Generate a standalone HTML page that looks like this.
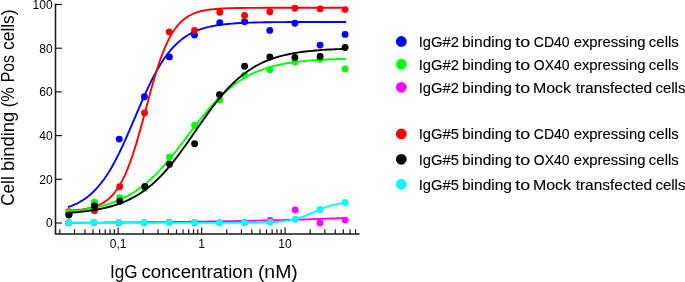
<!DOCTYPE html>
<html><head><meta charset="utf-8"><title>chart</title>
<style>
html,body{margin:0;padding:0;background:#fff;}
body{width:685px;height:282px;overflow:hidden;position:relative;}
svg{display:block;position:absolute;left:0;top:0;will-change:transform;}
text{font-family:"Liberation Sans",sans-serif;fill:#000;}
.tk{font-size:12px;fill:#000;stroke:none;}
.st{stroke:#000;stroke-width:0.12px;}
.sn{stroke:none;}
</style></head><body>
<svg width="685" height="282" viewBox="0 0 685 282">
<rect width="685" height="282" fill="#fff"/>
<path d="M55.50 3.7V233.95H359.6" fill="none" stroke="#1a1a1a" stroke-width="1.55" stroke-linejoin="miter"/>
<path d="M55.50 223.00H62" stroke="#1a1a1a" stroke-width="1.2"/>
<path d="M55.50 179.30H62" stroke="#1a1a1a" stroke-width="1.2"/>
<path d="M55.50 135.60H62" stroke="#1a1a1a" stroke-width="1.2"/>
<path d="M55.50 91.90H62" stroke="#1a1a1a" stroke-width="1.2"/>
<path d="M55.50 48.20H62" stroke="#1a1a1a" stroke-width="1.2"/>
<path d="M55.50 4.50H62" stroke="#1a1a1a" stroke-width="1.2"/>
<path d="M59.82 233.95V229.35" stroke="#1a1a1a" stroke-width="1.2"/>
<path d="M74.52 233.95V229.35" stroke="#1a1a1a" stroke-width="1.2"/>
<path d="M84.94 233.95V229.35" stroke="#1a1a1a" stroke-width="1.2"/>
<path d="M93.03 233.95V229.35" stroke="#1a1a1a" stroke-width="1.2"/>
<path d="M99.64 233.95V229.35" stroke="#1a1a1a" stroke-width="1.2"/>
<path d="M105.22 233.95V229.35" stroke="#1a1a1a" stroke-width="1.2"/>
<path d="M110.06 233.95V229.35" stroke="#1a1a1a" stroke-width="1.2"/>
<path d="M114.33 233.95V229.35" stroke="#1a1a1a" stroke-width="1.2"/>
<path d="M118.15 233.95V227.55" stroke="#1a1a1a" stroke-width="1.2"/>
<path d="M143.27 233.95V229.35" stroke="#1a1a1a" stroke-width="1.2"/>
<path d="M157.97 233.95V229.35" stroke="#1a1a1a" stroke-width="1.2"/>
<path d="M168.39 233.95V229.35" stroke="#1a1a1a" stroke-width="1.2"/>
<path d="M176.48 233.95V229.35" stroke="#1a1a1a" stroke-width="1.2"/>
<path d="M183.09 233.95V229.35" stroke="#1a1a1a" stroke-width="1.2"/>
<path d="M188.67 233.95V229.35" stroke="#1a1a1a" stroke-width="1.2"/>
<path d="M193.51 233.95V229.35" stroke="#1a1a1a" stroke-width="1.2"/>
<path d="M197.78 233.95V229.35" stroke="#1a1a1a" stroke-width="1.2"/>
<path d="M201.60 233.95V227.55" stroke="#1a1a1a" stroke-width="1.2"/>
<path d="M226.72 233.95V229.35" stroke="#1a1a1a" stroke-width="1.2"/>
<path d="M241.42 233.95V229.35" stroke="#1a1a1a" stroke-width="1.2"/>
<path d="M251.84 233.95V229.35" stroke="#1a1a1a" stroke-width="1.2"/>
<path d="M259.93 233.95V229.35" stroke="#1a1a1a" stroke-width="1.2"/>
<path d="M266.54 233.95V229.35" stroke="#1a1a1a" stroke-width="1.2"/>
<path d="M272.12 233.95V229.35" stroke="#1a1a1a" stroke-width="1.2"/>
<path d="M276.96 233.95V229.35" stroke="#1a1a1a" stroke-width="1.2"/>
<path d="M281.23 233.95V229.35" stroke="#1a1a1a" stroke-width="1.2"/>
<path d="M285.05 233.95V227.55" stroke="#1a1a1a" stroke-width="1.2"/>
<path d="M310.17 233.95V229.35" stroke="#1a1a1a" stroke-width="1.2"/>
<path d="M324.87 233.95V229.35" stroke="#1a1a1a" stroke-width="1.2"/>
<path d="M335.29 233.95V229.35" stroke="#1a1a1a" stroke-width="1.2"/>
<path d="M343.38 233.95V229.35" stroke="#1a1a1a" stroke-width="1.2"/>
<path d="M349.99 233.95V229.35" stroke="#1a1a1a" stroke-width="1.2"/>
<path d="M355.57 233.95V229.35" stroke="#1a1a1a" stroke-width="1.2"/>
<path d="M68.80 206.85L70.79 206.13L72.78 205.35L74.77 204.49L76.75 203.56L78.74 202.54L80.73 201.43L82.72 200.23L84.71 198.91L86.70 197.49L88.68 195.95L90.67 194.28L92.66 192.47L94.65 190.53L96.64 188.43L98.63 186.18L100.62 183.77L102.60 181.19L104.59 178.44L106.58 175.52L108.57 172.43L110.56 169.15L112.55 165.71L114.54 162.09L116.52 158.31L118.51 154.37L120.50 150.28L122.49 146.06L124.48 141.71L126.47 137.26L128.45 132.72L130.44 128.11L132.43 123.46L134.42 118.78L136.41 114.10L138.40 109.43L140.39 104.81L142.37 100.25L144.36 95.77L146.35 91.39L148.34 87.12L150.33 82.99L152.32 79.00L154.31 75.17L156.29 71.50L158.28 68.00L160.27 64.67L162.26 61.52L164.25 58.55L166.24 55.74L168.22 53.11L170.21 50.65L172.20 48.35L174.19 46.21L176.18 44.22L178.17 42.37L180.16 40.66L182.14 39.07L184.13 37.61L186.12 36.27L188.11 35.03L190.10 33.89L192.09 32.84L194.07 31.88L196.06 31.01L198.05 30.20L200.04 29.47L202.03 28.79L204.02 28.18L206.01 27.62L207.99 27.11L209.98 26.64L211.97 26.22L213.96 25.83L215.95 25.47L217.94 25.15L219.93 24.86L221.91 24.60L223.90 24.35L225.89 24.13L227.88 23.93L229.87 23.75L231.86 23.59L233.84 23.44L235.83 23.30L237.82 23.18L239.81 23.07L241.80 22.96L243.79 22.87L245.78 22.79L247.76 22.71L249.75 22.64L251.74 22.58L253.73 22.52L255.72 22.47L257.71 22.42L259.69 22.38L261.68 22.34L263.67 22.30L265.66 22.27L267.65 22.24L269.64 22.22L271.63 22.19L273.61 22.17L275.60 22.15L277.59 22.13L279.58 22.12L281.57 22.10L283.56 22.09L285.55 22.08L287.53 22.07L289.52 22.06L291.51 22.05L293.50 22.04L295.49 22.03L297.48 22.03L299.46 22.02L301.45 22.02L303.44 22.01L305.43 22.01L307.42 22.00L309.41 22.00L311.40 21.99L313.38 21.99L315.37 21.99L317.36 21.99L319.35 21.98L321.34 21.98L323.33 21.98L325.32 21.98L327.30 21.98L329.29 21.97L331.28 21.97L333.27 21.97L335.26 21.97L337.25 21.97L339.23 21.97L341.22 21.97L343.21 21.97L345.20 21.97" fill="none" stroke="#0000ff" stroke-width="1.90" stroke-linejoin="round" stroke-linecap="square"/>
<circle cx="69.1" cy="214.3" r="3.45" fill="#0000ff"/>
<circle cx="94.3" cy="203.4" r="3.45" fill="#0000ff"/>
<circle cx="119.2" cy="139.1" r="3.45" fill="#0000ff"/>
<circle cx="144.4" cy="96.8" r="3.45" fill="#0000ff"/>
<circle cx="169.4" cy="56.9" r="3.45" fill="#0000ff"/>
<circle cx="194.5" cy="35.1" r="3.45" fill="#0000ff"/>
<circle cx="219.8" cy="22.7" r="3.45" fill="#0000ff"/>
<circle cx="244.6" cy="21.8" r="3.45" fill="#0000ff"/>
<circle cx="269.8" cy="30.4" r="3.45" fill="#0000ff"/>
<circle cx="294.9" cy="23.2" r="3.45" fill="#0000ff"/>
<circle cx="320.1" cy="45.1" r="3.45" fill="#0000ff"/>
<circle cx="345.1" cy="34.4" r="3.45" fill="#0000ff"/>
<path d="M68.80 210.57L70.79 210.46L72.78 210.33L74.77 210.18L76.75 210.01L78.74 209.82L80.73 209.59L82.72 209.33L84.71 209.02L86.70 208.67L88.68 208.27L90.67 207.80L92.66 207.27L94.65 206.65L96.64 205.94L98.63 205.12L100.62 204.19L102.60 203.11L104.59 201.89L106.58 200.48L108.57 198.88L110.56 197.07L112.55 195.01L114.54 192.67L116.52 190.05L118.51 187.10L120.50 183.80L122.49 180.13L124.48 176.07L126.47 171.60L128.45 166.71L130.44 161.40L132.43 155.69L134.42 149.58L136.41 143.10L138.40 136.31L140.39 129.26L142.37 121.99L144.36 114.60L146.35 107.16L148.34 99.74L150.33 92.42L152.32 85.28L154.31 78.38L156.29 71.79L158.28 65.55L160.27 59.68L162.26 54.23L164.25 49.19L166.24 44.57L168.22 40.36L170.21 36.55L172.20 33.11L174.19 30.04L176.18 27.30L178.17 24.86L180.16 22.71L182.14 20.80L184.13 19.13L186.12 17.66L188.11 16.37L190.10 15.24L192.09 14.26L194.07 13.40L196.06 12.65L198.05 12.00L200.04 11.44L202.03 10.95L204.02 10.52L206.01 10.15L207.99 9.83L209.98 9.56L211.97 9.32L213.96 9.11L215.95 8.93L217.94 8.77L219.93 8.64L221.91 8.52L223.90 8.42L225.89 8.34L227.88 8.26L229.87 8.20L231.86 8.14L233.84 8.09L235.83 8.05L237.82 8.01L239.81 7.98L241.80 7.95L243.79 7.93L245.78 7.91L247.76 7.89L249.75 7.88L251.74 7.86L253.73 7.85L255.72 7.84L257.71 7.84L259.69 7.83L261.68 7.82L263.67 7.82L265.66 7.81L267.65 7.81L269.64 7.80L271.63 7.80L273.61 7.80L275.60 7.80L277.59 7.79L279.58 7.79L281.57 7.79L283.56 7.79L285.55 7.79L287.53 7.79L289.52 7.79L291.51 7.79L293.50 7.79L295.49 7.79L297.48 7.78L299.46 7.78L301.45 7.78L303.44 7.78L305.43 7.78L307.42 7.78L309.41 7.78L311.40 7.78L313.38 7.78L315.37 7.78L317.36 7.78L319.35 7.78L321.34 7.78L323.33 7.78L325.32 7.78L327.30 7.78L329.29 7.78L331.28 7.78L333.27 7.78L335.26 7.78L337.25 7.78L339.23 7.78L341.22 7.78L343.21 7.78L345.20 7.78" fill="none" stroke="#ff0000" stroke-width="1.90" stroke-linejoin="round" stroke-linecap="square"/>
<circle cx="68.8" cy="211.6" r="3.45" fill="#ff0000"/>
<circle cx="94.5" cy="210.7" r="3.45" fill="#ff0000"/>
<circle cx="119.7" cy="186.8" r="3.45" fill="#ff0000"/>
<circle cx="144.5" cy="113.0" r="3.45" fill="#ff0000"/>
<circle cx="169.2" cy="32.0" r="3.45" fill="#ff0000"/>
<circle cx="194.5" cy="30.4" r="3.45" fill="#ff0000"/>
<circle cx="219.8" cy="12.2" r="3.45" fill="#ff0000"/>
<circle cx="244.6" cy="15.4" r="3.45" fill="#ff0000"/>
<circle cx="269.8" cy="11.7" r="3.45" fill="#ff0000"/>
<circle cx="294.9" cy="8.2" r="3.45" fill="#ff0000"/>
<circle cx="320.1" cy="8.9" r="3.45" fill="#ff0000"/>
<circle cx="345.1" cy="9.6" r="3.45" fill="#ff0000"/>
<path d="M68.80 211.40L70.79 211.21L72.78 211.01L74.77 210.79L76.75 210.56L78.74 210.32L80.73 210.06L82.72 209.78L84.71 209.49L86.70 209.17L88.68 208.84L90.67 208.48L92.66 208.10L94.65 207.70L96.64 207.27L98.63 206.81L100.62 206.33L102.60 205.81L104.59 205.26L106.58 204.68L108.57 204.06L110.56 203.41L112.55 202.71L114.54 201.98L116.52 201.20L118.51 200.38L120.50 199.51L122.49 198.59L124.48 197.62L126.47 196.59L128.45 195.52L130.44 194.38L132.43 193.19L134.42 191.93L136.41 190.62L138.40 189.24L140.39 187.80L142.37 186.29L144.36 184.71L146.35 183.07L148.34 181.35L150.33 179.57L152.32 177.73L154.31 175.81L156.29 173.83L158.28 171.78L160.27 169.67L162.26 167.49L164.25 165.26L166.24 162.97L168.22 160.62L170.21 158.23L172.20 155.79L174.19 153.31L176.18 150.79L178.17 148.23L180.16 145.65L182.14 143.05L184.13 140.44L186.12 137.81L188.11 135.18L190.10 132.56L192.09 129.94L194.07 127.33L196.06 124.75L198.05 122.19L200.04 119.66L202.03 117.17L204.02 114.71L206.01 112.31L207.99 109.95L209.98 107.64L211.97 105.39L213.96 103.20L215.95 101.07L217.94 99.01L219.93 97.01L221.91 95.07L223.90 93.21L225.89 91.41L227.88 89.68L229.87 88.01L231.86 86.42L233.84 84.89L235.83 83.43L237.82 82.03L239.81 80.70L241.80 79.43L243.79 78.22L245.78 77.07L247.76 75.98L249.75 74.94L251.74 73.96L253.73 73.02L255.72 72.14L257.71 71.30L259.69 70.51L261.68 69.77L263.67 69.06L265.66 68.40L267.65 67.77L269.64 67.18L271.63 66.62L273.61 66.09L275.60 65.60L277.59 65.14L279.58 64.70L281.57 64.29L283.56 63.90L285.55 63.54L287.53 63.20L289.52 62.88L291.51 62.58L293.50 62.30L295.49 62.03L297.48 61.78L299.46 61.55L301.45 61.33L303.44 61.13L305.43 60.94L307.42 60.76L309.41 60.59L311.40 60.43L313.38 60.28L315.37 60.15L317.36 60.02L319.35 59.90L321.34 59.78L323.33 59.68L325.32 59.58L327.30 59.48L329.29 59.40L331.28 59.32L333.27 59.24L335.26 59.17L337.25 59.10L339.23 59.04L341.22 58.98L343.21 58.93L345.20 58.87" fill="none" stroke="#00ff00" stroke-width="1.90" stroke-linejoin="round" stroke-linecap="square"/>
<circle cx="68.8" cy="212.5" r="3.45" fill="#00ff00"/>
<circle cx="94.5" cy="202.2" r="3.45" fill="#00ff00"/>
<circle cx="119.7" cy="197.8" r="3.45" fill="#00ff00"/>
<circle cx="144.9" cy="188.2" r="3.45" fill="#00ff00"/>
<circle cx="169.5" cy="157.3" r="3.45" fill="#00ff00"/>
<circle cx="194.6" cy="125.3" r="3.45" fill="#00ff00"/>
<circle cx="219.8" cy="100.0" r="3.45" fill="#00ff00"/>
<circle cx="244.6" cy="75.1" r="3.45" fill="#00ff00"/>
<circle cx="269.8" cy="69.8" r="3.45" fill="#00ff00"/>
<circle cx="294.9" cy="62.1" r="3.45" fill="#00ff00"/>
<circle cx="320.1" cy="59.3" r="3.45" fill="#00ff00"/>
<circle cx="345.1" cy="69.0" r="3.45" fill="#00ff00"/>
<path d="M68.80 212.82L70.79 212.67L72.78 212.52L74.77 212.35L76.75 212.18L78.74 211.99L80.73 211.79L82.72 211.57L84.71 211.34L86.70 211.10L88.68 210.84L90.67 210.56L92.66 210.26L94.65 209.94L96.64 209.60L98.63 209.23L100.62 208.84L102.60 208.43L104.59 207.99L106.58 207.52L108.57 207.02L110.56 206.49L112.55 205.92L114.54 205.32L116.52 204.68L118.51 204.00L120.50 203.27L122.49 202.51L124.48 201.69L126.47 200.83L128.45 199.92L130.44 198.95L132.43 197.93L134.42 196.85L136.41 195.70L138.40 194.50L140.39 193.23L142.37 191.90L144.36 190.50L146.35 189.02L148.34 187.48L150.33 185.86L152.32 184.16L154.31 182.39L156.29 180.55L158.28 178.63L160.27 176.63L162.26 174.55L164.25 172.40L166.24 170.18L168.22 167.88L170.21 165.51L172.20 163.08L174.19 160.57L176.18 158.01L178.17 155.39L180.16 152.72L182.14 150.00L184.13 147.24L186.12 144.45L188.11 141.62L190.10 138.77L192.09 135.90L194.07 133.02L196.06 130.13L198.05 127.25L200.04 124.38L202.03 121.53L204.02 118.70L206.01 115.90L207.99 113.13L209.98 110.41L211.97 107.73L213.96 105.11L215.95 102.54L217.94 100.03L219.93 97.59L221.91 95.21L223.90 92.91L225.89 90.67L227.88 88.51L229.87 86.43L231.86 84.42L233.84 82.49L235.83 80.64L237.82 78.86L239.81 77.16L241.80 75.53L243.79 73.98L245.78 72.50L247.76 71.09L249.75 69.74L251.74 68.47L253.73 67.26L255.72 66.11L257.71 65.02L259.69 63.99L261.68 63.02L263.67 62.10L265.66 61.23L267.65 60.41L269.64 59.64L271.63 58.91L273.61 58.23L275.60 57.58L277.59 56.98L279.58 56.40L281.57 55.87L283.56 55.36L285.55 54.89L287.53 54.45L289.52 54.03L291.51 53.64L293.50 53.28L295.49 52.93L297.48 52.61L299.46 52.31L301.45 52.03L303.44 51.76L305.43 51.52L307.42 51.28L309.41 51.07L311.40 50.86L313.38 50.68L315.37 50.50L317.36 50.33L319.35 50.18L321.34 50.03L323.33 49.90L325.32 49.77L327.30 49.65L329.29 49.54L331.28 49.44L333.27 49.34L335.26 49.25L337.25 49.17L339.23 49.09L341.22 49.01L343.21 48.95L345.20 48.88" fill="none" stroke="#000000" stroke-width="1.90" stroke-linejoin="round" stroke-linecap="square"/>
<circle cx="68.8" cy="215.1" r="3.45" fill="#000000"/>
<circle cx="94.5" cy="205.9" r="3.45" fill="#000000"/>
<circle cx="119.7" cy="201.3" r="3.45" fill="#000000"/>
<circle cx="144.9" cy="186.4" r="3.45" fill="#000000"/>
<circle cx="169.5" cy="164.3" r="3.45" fill="#000000"/>
<circle cx="194.6" cy="143.7" r="3.45" fill="#000000"/>
<circle cx="219.5" cy="94.6" r="3.45" fill="#000000"/>
<circle cx="244.6" cy="66.3" r="3.45" fill="#000000"/>
<circle cx="269.8" cy="57.0" r="3.45" fill="#000000"/>
<circle cx="294.9" cy="57.4" r="3.45" fill="#000000"/>
<circle cx="320.1" cy="56.4" r="3.45" fill="#000000"/>
<circle cx="345.1" cy="47.5" r="3.45" fill="#000000"/>
<path d="M68.80 222.74L70.79 222.73L72.78 222.73L74.77 222.72L76.75 222.71L78.74 222.70L80.73 222.69L82.72 222.68L84.71 222.67L86.70 222.66L88.68 222.65L90.67 222.64L92.66 222.63L94.65 222.62L96.64 222.61L98.63 222.60L100.62 222.59L102.60 222.58L104.59 222.56L106.58 222.55L108.57 222.54L110.56 222.53L112.55 222.51L114.54 222.50L116.52 222.49L118.51 222.48L120.50 222.46L122.49 222.45L124.48 222.44L126.47 222.42L128.45 222.41L130.44 222.39L132.43 222.38L134.42 222.36L136.41 222.35L138.40 222.33L140.39 222.31L142.37 222.30L144.36 222.28L146.35 222.26L148.34 222.25L150.33 222.23L152.32 222.21L154.31 222.19L156.29 222.18L158.28 222.16L160.27 222.14L162.26 222.12L164.25 222.10L166.24 222.08L168.22 222.06L170.21 222.04L172.20 222.02L174.19 221.99L176.18 221.97L178.17 221.95L180.16 221.93L182.14 221.90L184.13 221.88L186.12 221.86L188.11 221.83L190.10 221.81L192.09 221.78L194.07 221.76L196.06 221.73L198.05 221.70L200.04 221.68L202.03 221.65L204.02 221.62L206.01 221.59L207.99 221.56L209.98 221.53L211.97 221.50L213.96 221.47L215.95 221.44L217.94 221.41L219.93 221.38L221.91 221.35L223.90 221.31L225.89 221.28L227.88 221.25L229.87 221.21L231.86 221.18L233.84 221.14L235.83 221.10L237.82 221.07L239.81 221.03L241.80 220.99L243.79 220.95L245.78 220.91L247.76 220.87L249.75 220.83L251.74 220.79L253.73 220.75L255.72 220.71L257.71 220.66L259.69 220.62L261.68 220.57L263.67 220.53L265.66 220.48L267.65 220.44L269.64 220.39L271.63 220.34L273.61 220.29L275.60 220.24L277.59 220.19L279.58 220.14L281.57 220.09L283.56 220.04L285.55 219.98L287.53 219.93L289.52 219.87L291.51 219.82L293.50 219.76L295.49 219.70L297.48 219.65L299.46 219.59L301.45 219.53L303.44 219.47L305.43 219.41L307.42 219.34L309.41 219.28L311.40 219.22L313.38 219.15L315.37 219.09L317.36 219.02L319.35 218.95L321.34 218.88L323.33 218.81L325.32 218.74L327.30 218.67L329.29 218.60L331.28 218.53L333.27 218.45L335.26 218.38L337.25 218.30L339.23 218.23L341.22 218.15L343.21 218.07L345.20 217.99" fill="none" stroke="#ff00ff" stroke-width="1.90" stroke-linejoin="round" stroke-linecap="square"/>
<circle cx="68.6" cy="222.9" r="3.45" fill="#ff00ff"/>
<circle cx="93.8" cy="222.8" r="3.45" fill="#ff00ff"/>
<circle cx="118.8" cy="222.9" r="3.45" fill="#ff00ff"/>
<circle cx="144.2" cy="222.7" r="3.45" fill="#ff00ff"/>
<circle cx="169.3" cy="222.3" r="3.45" fill="#ff00ff"/>
<circle cx="194.5" cy="222.8" r="3.45" fill="#ff00ff"/>
<circle cx="219.5" cy="222.6" r="3.45" fill="#ff00ff"/>
<circle cx="244.6" cy="222.5" r="3.45" fill="#ff00ff"/>
<circle cx="270.1" cy="220.4" r="3.45" fill="#ff00ff"/>
<circle cx="295.2" cy="209.9" r="3.45" fill="#ff00ff"/>
<circle cx="320.0" cy="222.9" r="3.45" fill="#ff00ff"/>
<circle cx="345.1" cy="220.1" r="3.45" fill="#ff00ff"/>
<path d="M68.80 222.86L70.79 222.86L72.78 222.86L74.77 222.86L76.75 222.86L78.74 222.86L80.73 222.86L82.72 222.86L84.71 222.86L86.70 222.86L88.68 222.86L90.67 222.86L92.66 222.86L94.65 222.86L96.64 222.86L98.63 222.86L100.62 222.86L102.60 222.86L104.59 222.86L106.58 222.86L108.57 222.86L110.56 222.86L112.55 222.86L114.54 222.86L116.52 222.86L118.51 222.86L120.50 222.86L122.49 222.86L124.48 222.86L126.47 222.86L128.45 222.86L130.44 222.86L132.43 222.86L134.42 222.86L136.41 222.86L138.40 222.86L140.39 222.86L142.37 222.86L144.36 222.86L146.35 222.86L148.34 222.86L150.33 222.86L152.32 222.86L154.31 222.86L156.29 222.86L158.28 222.86L160.27 222.86L162.26 222.86L164.25 222.86L166.24 222.86L168.22 222.86L170.21 222.86L172.20 222.86L174.19 222.86L176.18 222.86L178.17 222.86L180.16 222.86L182.14 222.86L184.13 222.86L186.12 222.86L188.11 222.86L190.10 222.86L192.09 222.86L194.07 222.86L196.06 222.86L198.05 222.86L200.04 222.86L202.03 222.86L204.02 222.86L206.01 222.86L207.99 222.86L209.98 222.86L211.97 222.86L213.96 222.86L215.95 222.85L217.94 222.85L219.93 222.85L221.91 222.85L223.90 222.85L225.89 222.85L227.88 222.84L229.87 222.84L231.86 222.84L233.84 222.83L235.83 222.83L237.82 222.82L239.81 222.81L241.80 222.80L243.79 222.79L245.78 222.78L247.76 222.77L249.75 222.75L251.74 222.73L253.73 222.71L255.72 222.68L257.71 222.65L259.69 222.61L261.68 222.57L263.67 222.52L265.66 222.46L267.65 222.39L269.64 222.31L271.63 222.21L273.61 222.10L275.60 221.98L277.59 221.83L279.58 221.66L281.57 221.46L283.56 221.23L285.55 220.97L287.53 220.67L289.52 220.33L291.51 219.94L293.50 219.51L295.49 219.02L297.48 218.48L299.46 217.89L301.45 217.24L303.44 216.54L305.43 215.79L307.42 214.99L309.41 214.16L311.40 213.30L313.38 212.43L315.37 211.55L317.36 210.67L319.35 209.81L321.34 208.98L323.33 208.18L325.32 207.43L327.30 206.72L329.29 206.07L331.28 205.47L333.27 204.93L335.26 204.44L337.25 204.00L339.23 203.61L341.22 203.27L343.21 202.97L345.20 202.70" fill="none" stroke="#00ffff" stroke-width="1.90" stroke-linejoin="round" stroke-linecap="square"/>
<circle cx="68.8" cy="222.5" r="3.45" fill="#00ffff"/>
<circle cx="93.9" cy="222.5" r="3.45" fill="#00ffff"/>
<circle cx="119.0" cy="222.5" r="3.45" fill="#00ffff"/>
<circle cx="144.2" cy="222.5" r="3.45" fill="#00ffff"/>
<circle cx="169.3" cy="222.5" r="3.45" fill="#00ffff"/>
<circle cx="194.4" cy="222.5" r="3.45" fill="#00ffff"/>
<circle cx="219.5" cy="222.6" r="3.45" fill="#00ffff"/>
<circle cx="244.4" cy="222.6" r="3.45" fill="#00ffff"/>
<circle cx="270.1" cy="222.2" r="3.45" fill="#00ffff"/>
<circle cx="295.2" cy="219.3" r="3.45" fill="#00ffff"/>
<circle cx="320.0" cy="209.5" r="3.45" fill="#00ffff"/>
<circle cx="345.1" cy="202.5" r="3.45" fill="#00ffff"/>
<circle cx="401.3" cy="41.5" r="5.4" fill="#0000ff"/>
<text class="st" transform="translate(418.73,46.90) scale(0.9931,1)" font-size="14.90">IgG#2</text>
<text class="st" transform="translate(462.00,46.90) scale(1.0405,1)" font-size="14.90">binding</text>
<text class="st" transform="translate(515.23,46.90) scale(1.2008,1)" font-size="14.90">to</text>
<text class="st" transform="translate(533.79,46.90) scale(0.9386,1)" font-size="14.90">CD40</text>
<text class="st" transform="translate(573.67,46.90) scale(0.9963,1)" font-size="14.90">expressing</text>
<text class="st" transform="translate(648.87,46.90) scale(1.0022,1)" font-size="14.90">cells</text>
<circle cx="401.3" cy="64.2" r="5.4" fill="#00ff00"/>
<text class="st" transform="translate(418.73,69.70) scale(0.9931,1)" font-size="14.90">IgG#2</text>
<text class="st" transform="translate(462.00,69.70) scale(1.0405,1)" font-size="14.90">binding</text>
<text class="st" transform="translate(515.23,69.70) scale(1.2008,1)" font-size="14.90">to</text>
<text class="st" transform="translate(533.84,69.70) scale(0.9372,1)" font-size="14.90">OX40</text>
<text class="st" transform="translate(573.67,69.70) scale(0.9963,1)" font-size="14.90">expressing</text>
<text class="st" transform="translate(648.87,69.70) scale(1.0022,1)" font-size="14.90">cells</text>
<circle cx="401.3" cy="87.3" r="5.4" fill="#ff00ff"/>
<text class="st" transform="translate(418.73,92.80) scale(0.9931,1)" font-size="14.90">IgG#2</text>
<text class="st" transform="translate(462.00,92.80) scale(1.0405,1)" font-size="14.90">binding</text>
<text class="st" transform="translate(515.23,92.80) scale(1.2008,1)" font-size="14.90">to</text>
<text class="st" transform="translate(532.99,92.80) scale(1.0698,1)" font-size="14.90">Mock</text>
<text class="st" transform="translate(575.67,92.80) scale(1.0382,1)" font-size="14.90">transfected</text>
<text class="st" transform="translate(655.46,92.80) scale(1.0057,1)" font-size="14.90">cells</text>
<circle cx="401.3" cy="133.9" r="5.4" fill="#ff0000"/>
<text class="st" transform="translate(418.74,139.40) scale(0.9899,1)" font-size="14.90">IgG#5</text>
<text class="st" transform="translate(462.00,139.40) scale(1.0405,1)" font-size="14.90">binding</text>
<text class="st" transform="translate(515.23,139.40) scale(1.2008,1)" font-size="14.90">to</text>
<text class="st" transform="translate(533.79,139.40) scale(0.9386,1)" font-size="14.90">CD40</text>
<text class="st" transform="translate(573.67,139.40) scale(0.9963,1)" font-size="14.90">expressing</text>
<text class="st" transform="translate(648.87,139.40) scale(1.0022,1)" font-size="14.90">cells</text>
<circle cx="401.3" cy="159.3" r="5.4" fill="#000000"/>
<text class="st" transform="translate(418.74,164.80) scale(0.9899,1)" font-size="14.90">IgG#5</text>
<text class="st" transform="translate(462.00,164.80) scale(1.0405,1)" font-size="14.90">binding</text>
<text class="st" transform="translate(515.23,164.80) scale(1.2008,1)" font-size="14.90">to</text>
<text class="st" transform="translate(533.84,164.80) scale(0.9372,1)" font-size="14.90">OX40</text>
<text class="st" transform="translate(573.67,164.80) scale(0.9963,1)" font-size="14.90">expressing</text>
<text class="st" transform="translate(648.87,164.80) scale(1.0022,1)" font-size="14.90">cells</text>
<circle cx="401.3" cy="184.2" r="5.4" fill="#00ffff"/>
<text class="st" transform="translate(418.74,189.60) scale(0.9899,1)" font-size="14.90">IgG#5</text>
<text class="st" transform="translate(462.00,189.60) scale(1.0405,1)" font-size="14.90">binding</text>
<text class="st" transform="translate(515.23,189.60) scale(1.2008,1)" font-size="14.90">to</text>
<text class="st" transform="translate(532.99,189.60) scale(1.0698,1)" font-size="14.90">Mock</text>
<text class="st" transform="translate(575.67,189.60) scale(1.0382,1)" font-size="14.90">transfected</text>
<text class="st" transform="translate(655.46,189.60) scale(1.0057,1)" font-size="14.90">cells</text>
<text class="sn" transform="translate(110.02,277.60) scale(0.9808,1)" font-size="17.50">IgG</text>
<text class="sn" transform="translate(141.41,277.60) scale(1.0621,1)" font-size="17.50">concentration</text>
<text class="sn" transform="translate(257.90,277.60) scale(1.1096,1)" font-size="17.50">(nM)</text>
<text class="sn" transform="translate(14.30,205.77) rotate(-90) scale(0.9312,1)" font-size="18.40">Cell</text>
<text class="sn" transform="translate(14.30,171.09) rotate(-90) scale(1.0023,1)" font-size="18.40">binding</text>
<text class="sn" transform="translate(14.30,107.21) rotate(-90) scale(0.8893,1)" font-size="18.40">(%</text>
<text class="sn" transform="translate(14.30,82.29) rotate(-90) scale(0.8567,1)" font-size="18.40">Pos</text>
<text class="sn" transform="translate(14.30,49.94) rotate(-90) scale(0.9436,1)" font-size="18.40">cells)</text>
<text x="52.6" y="227.30" text-anchor="end" class="tk">0</text>
<text x="52.6" y="183.60" text-anchor="end" class="tk">20</text>
<text x="52.6" y="139.90" text-anchor="end" class="tk">40</text>
<text x="52.6" y="96.20" text-anchor="end" class="tk">60</text>
<text x="52.6" y="52.50" text-anchor="end" class="tk">80</text>
<text x="52.6" y="8.80" text-anchor="end" class="tk">100</text>
<text x="118.15" y="248.3" text-anchor="middle" class="tk">0,1</text>
<text x="201.60" y="248.3" text-anchor="middle" class="tk">1</text>
<text x="285.05" y="248.3" text-anchor="middle" class="tk">10</text>
</svg>
</body></html>
